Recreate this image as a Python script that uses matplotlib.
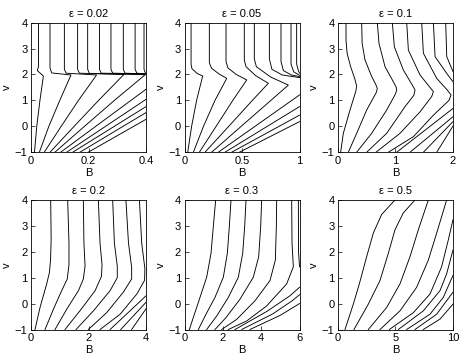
import matplotlib
matplotlib.use("Agg")
import matplotlib.pyplot as plt

plt.rcParams['font.family'] = ['Liberation Sans', 'DejaVu Sans']
plt.rcParams['font.size'] = 8

titles = ["ε = 0.02", "ε = 0.05", "ε = 0.1", "ε = 0.2", "ε = 0.3", "ε = 0.5"]
xmax = [0.4, 1, 2, 4, 6, 10]
xticks = [[0, 0.2, 0.4], [0, 0.5, 1], [0, 1, 2], [0, 2, 4], [0, 2, 4, 6], [0, 5, 10]]
xticklabels = [["0", "0.2", "0.4"], ["0", "0.5", "1"], ["0", "1", "2"],
               ["0", "2", "4"], ["0", "2", "4", "6"], ["0", "5", "10"]]
yticks = [-1, 0, 1, 2, 3, 4]

# Curves: each is (B values, v values)
p1 = [
    ([0.026, 0.026, 0.022, 0.043, 0.031, 0.020, 0.012], [4, 2.3, 2.15, 1.94, 1.0, 0.0, -1]),
    ([0.066, 0.066, 0.072, 0.139, 0.100, 0.062, 0.029], [4, 2.25, 2.06, 1.98, 1.0, 0.0, -1]),
    ([0.116, 0.116, 0.122, 0.228, 0.165, 0.105, 0.046], [4, 2.2, 2.05, 1.98, 1.0, 0.0, -1]),
    ([0.162, 0.162, 0.168, 0.323, 0.235, 0.150, 0.066], [4, 2.2, 2.05, 2.0, 1.0, 0.0, -1]),
    ([0.197, 0.197, 0.203, 0.397, 0.290, 0.186, 0.083], [4, 2.2, 2.04, 1.99, 1.0, 0.0, -1]),
    ([0.238, 0.238, 0.244, 0.4], [4, 2.2, 2.05, 2.02]),
    ([0.278, 0.278, 0.284, 0.4], [4, 2.2, 2.05, 2.02]),
    ([0.321, 0.321, 0.327, 0.4], [4, 2.2, 2.05, 2.02]),
    ([0.362, 0.362, 0.368, 0.4], [4, 2.2, 2.05, 2.02]),
    ([0.393, 0.393, 0.398], [4, 2.2, 2.05]),
    ([0.103, 0.4], [-1, 1.43]),
    ([0.124, 0.4], [-1, 1.04]),
    ([0.145, 0.4], [-1, 0.76]),
    ([0.170, 0.4], [-1, 0.53]),
    ([0.199, 0.4], [-1, 0.27]),
]
p2 = [
    ([0.057, 0.057, 0.065, 0.11, 0.158, 0.105, 0.062, 0.028], [4, 2.4, 2.22, 2.04, 1.94, 1.0, 0.0, -1]),
    ([0.216, 0.216, 0.235, 0.30, 0.367, 0.265, 0.165, 0.077], [4, 2.45, 2.24, 2.02, 1.85, 1.0, 0.0, -1]),
    ([0.361, 0.361, 0.378, 0.45, 0.541, 0.42, 0.275, 0.129], [4, 2.5, 2.25, 2.0, 1.79, 1.0, 0.0, -1]),
    ([0.52, 0.52, 0.535, 0.62, 0.729, 0.59, 0.385, 0.178], [4, 2.55, 2.3, 1.95, 1.66, 1.0, 0.0, -1]),
    ([0.607, 0.607, 0.625, 0.75, 0.903, 0.751, 0.493, 0.236], [4, 2.6, 2.3, 1.9, 1.59, 1.0, 0.0, -1]),
    ([0.738, 0.738, 0.76, 0.85, 1.0], [4, 2.6, 2.2, 1.98, 1.88]),
    ([0.839, 0.839, 0.86, 0.93, 1.0], [4, 2.5, 2.15, 1.98, 1.92]),
    ([0.926, 0.926, 0.95, 1.0], [4, 2.4, 2.1, 1.97]),
    ([0.975, 0.975, 0.99, 1.0], [4, 2.4, 2.15, 2.05]),
    ([0.294, 1.0], [-1, 1.21]),
    ([0.352, 1.0], [-1, 0.76]),
    ([0.41, 1.0], [-1, 0.43]),
    ([0.477, 1.0], [-1, 0.18]),
]
p3 = [
    ([0.139, 0.14, 0.16, 0.22, 0.29, 0.325, 0.31, 0.209, 0.093, 0.046],
     [4, 3.3, 2.8, 2.3, 1.85, 1.55, 1.35, 0.63, -0.27, -1]),
    ([0.412, 0.42, 0.47, 0.586, 0.66, 0.684, 0.665, 0.499, 0.325, 0.18],
     [4, 3.2, 2.56, 1.92, 1.6, 1.46, 1.3, 0.63, -0.27, -1]),
    ([0.684, 0.713, 0.818, 0.963, 1.01, 1.021, 1.0, 0.847, 0.586, 0.325],
     [4, 3.2, 2.3, 1.72, 1.52, 1.40, 1.25, 0.63, -0.27, -1]),
    ([0.945, 0.98, 1.137, 1.29, 1.34, 1.32, 1.166, 0.847, 0.499],
     [4, 3.07, 2.17, 1.6, 1.40, 1.2, 0.76, -0.27, -1]),
    ([1.195, 1.224, 1.427, 1.6, 1.659, 1.63, 1.427, 1.079, 0.661],
     [4, 2.94, 1.98, 1.5, 1.34, 1.15, 0.56, -0.27, -1]),
    ([1.456, 1.485, 1.717, 1.9, 1.966, 1.93, 1.659, 1.311, 0.876],
     [4, 2.82, 1.85, 1.4, 1.21, 1.0, 0.43, -0.40, -1]),
    ([1.659, 1.688, 1.891, 2.0], [4, 2.69, 2.04, 1.72]),
    ([1.873, 1.891, 2.0], [4, 2.69, 2.11]),
    ([1.021, 2.0], [-1, 0.69]),
    ([1.253, 2.0], [-1, 0.37]),
    ([1.485, 2.0], [-1, 0.18]),
    ([1.717, 2.0], [-1, 0.01]),
]
p4 = [
    ([0.684, 0.70, 0.68, 0.64, 0.545, 0.313, 0.139], [4, 2.5, 1.7, 1.2, 0.76, -0.15, -1]),
    ([1.275, 1.32, 1.32, 1.26, 1.067, 0.777, 0.487], [4, 2.33, 1.5, 0.95, 0.5, -0.22, -1]),
    ([1.82, 1.84, 1.88, 1.82, 1.65, 1.24, 0.835], [4, 2.33, 1.45, 0.95, 0.5, -0.22, -1]),
    ([2.342, 2.40, 2.47, 2.45, 2.23, 1.70, 1.183], [4, 2.33, 1.5, 1.05, 0.5, -0.28, -1]),
    ([2.84, 2.90, 3.0, 3.0, 2.75, 2.17, 1.565], [4, 2.33, 1.45, 1.0, 0.5, -0.28, -1]),
    ([3.30, 3.39, 3.5, 3.5, 3.21, 2.63, 1.994], [4, 2.33, 1.4, 0.95, 0.44, -0.35, -1]),
    ([3.77, 3.85, 3.96, 3.95, 3.68, 3.10, 2.40], [4, 2.33, 1.35, 0.9, 0.37, -0.41, -1]),
    ([2.75, 4.0], [-1, 0.30]),
    ([3.12, 4.0], [-1, 0.05]),
    ([3.50, 4.0], [-1, -0.2]),
]
p5 = [
    ([1.626, 1.504, 1.383, 1.157, 0.809, 0.252], [4, 2.98, 1.94, 1.02, 0.24, -1]),
    ([2.426, 2.339, 2.235, 2.026, 1.591, 1.122, 0.722], [4, 2.98, 1.94, 1.02, 0.24, -0.41, -1]),
    ([3.209, 3.14, 3.035, 2.809, 2.287, 1.678, 1.157], [4, 2.98, 1.94, 1.02, 0.24, -0.48, -1]),
    ([4.026, 3.974, 3.87, 3.591, 2.896, 2.165, 1.591], [4, 2.98, 1.81, 1.02, 0.17, -0.54, -1]),
    ([4.809, 4.791, 4.739, 4.461, 3.678, 2.722, 1.939], [4, 2.98, 1.68, 0.89, 0.11, -0.61, -1]),
    ([5.591, 5.609, 5.678, 5.33, 4.287, 3.243, 2.287], [4, 2.33, 1.42, 0.76, -0.09, -0.67, -1]),
    ([5.94, 5.95, 6.0], [4, 2.0, 1.42]),
    ([2.635, 4.3, 5.5, 6.0], [-1, -0.3, 0.3, 0.63]),
    ([2.983, 4.6, 5.6, 6.0], [-1, -0.4, 0.1, 0.34]),
    ([3.417, 5.0, 6.0], [-1, -0.45, 0.0]),
]
p6 = [
    ([0.609, 1.333, 1.855, 2.493, 3.072, 3.797, 4.957], [-1, -0.02, 0.76, 1.81, 2.72, 3.44, 4]),
    ([1.391, 2.638, 3.652, 4.377, 4.957, 5.681, 6.696], [-1, -0.02, 0.89, 1.94, 2.85, 3.50, 4]),
    ([2.638, 4.232, 5.391, 6.261, 6.986, 7.855], [-1, -0.15, 0.76, 1.81, 2.85, 4]),
    ([3.652, 5.391, 6.841, 7.855, 8.58, 9.449], [-1, -0.28, 0.63, 1.68, 2.72, 4]),
    ([4.464, 6.551, 8.0, 9.01, 9.594, 10.0], [-1, -0.35, 0.37, 1.42, 2.46, 3.24]),
    ([5.246, 7.42, 8.87, 9.45, 10.0], [-1, -0.28, 0.5, 1.15, 2.07]),
    ([5.971, 8.0, 9.16, 10.0], [-1, -0.41, 0.24, 1.09]),
    ([6.696, 8.58, 10.0], [-1, -0.41, 0.44]),
    ([7.42, 8.87, 10.0], [-1, -0.6, -0.02]),
]
panels = [p1, p2, p3, p4, p5, p6]

fig = plt.figure(figsize=(4.63, 3.54), dpi=100)
lefts = [0.067, 0.3985, 0.730]
bottoms = [0.570, 0.0692]
W, H = 0.2484, 0.366

for i in range(6):
    r, c = divmod(i, 3)
    ax = fig.add_axes([lefts[c], bottoms[r], W, H])
    for bx, vy in panels[i]:
        ax.plot(bx, vy, color='black', lw=0.65, clip_on=True)
    ax.set_xlim(0, xmax[i])
    ax.set_ylim(-1, 4)
    ax.set_xticks(xticks[i])
    ax.set_xticklabels(xticklabels[i])
    ax.set_yticks(yticks)
    ax.set_yticklabels(["\u22121", "0", "1", "2", "3", "4"])
    ax.tick_params(direction='in', length=3, width=0.5, labelsize=8, pad=2.5)
    for s in ax.spines.values():
        s.set_linewidth(0.6)
    ax.set_title(titles[i], fontsize=8, pad=4)
    ax.set_xlabel("B", fontsize=8, labelpad=1.5)
    ax.set_ylabel("v", fontsize=8, labelpad=2)

fig.savefig("out.png", dpi=100)
